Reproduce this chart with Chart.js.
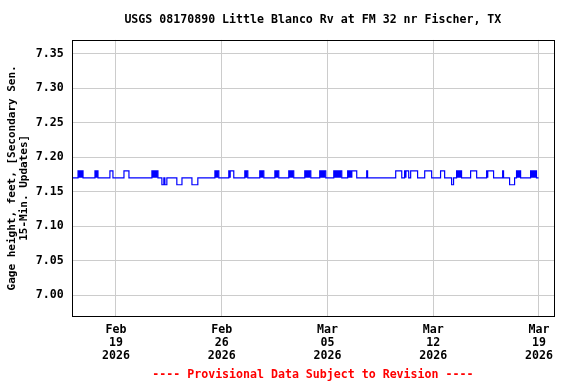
<!DOCTYPE html>
<html><head><meta charset="utf-8">
<script src="https://cdn.jsdelivr.net/npm/chart.js@4.4.1/dist/chart.umd.min.js"></script>
<style>html,body{margin:0;padding:0;background:#fff}</style>
</head><body>
<canvas id="c" width="576" height="384"></canvas>
<script>
// x values are days relative to Feb 19 2026 00:00
const xTickDays = [0, 7, 14, 21, 28];
const xTickLabels = [["Feb","19","2026"],["Feb","26","2026"],["Mar","05","2026"],["Mar","12","2026"],["Mar","19","2026"]];
const yTicks = [7.00, 7.05, 7.10, 7.15, 7.20, 7.25, 7.30, 7.35];
const baseLevel = 7.17;
const recordStart = -2.91, recordEnd = 27.98;
// excursions from the base level (start day, end day, level)
const stepStart = [-2.51,-1.39,-0.40,0.53,2.38,3.04,3.24,4.03,5.03,6.55,7.47,8.53,9.52,10.52,11.44,12.50,13.49,14.42,15.34,16.60,18.52,19.11,19.51,20.44,21.49,22.22,22.55,23.48,24.54,25.60,26.06,26.52,27.45];
const stepEnd   = [-2.18,-1.19,-0.20,0.86,2.78,3.17,3.37,4.37,5.42,6.81,7.80,8.73,9.79,10.78,11.77,12.90,13.89,14.95,15.94,16.66,18.92,19.38,19.97,20.90,21.76,22.35,22.88,23.88,25.00,25.66,26.39,26.79,27.84];
const stepLevel = [7.18,7.18,7.18,7.18,7.18,7.16,7.16,7.16,7.16,7.18,7.18,7.18,7.18,7.18,7.18,7.18,7.18,7.18,7.18,7.18,7.18,7.18,7.18,7.18,7.18,7.16,7.18,7.18,7.18,7.18,7.16,7.18,7.18];
// periods of rapid 7.17 <-> 7.18 flicker (drawn solid)
const bandStart = [-2.51,-1.39,2.38,6.55,7.47,8.53,9.52,10.52,11.44,12.50,13.49,14.42,15.34,19.11,22.55,24.54,26.52,27.45];
const bandEnd   = [-2.18,-1.19,2.78,6.81,7.61,8.73,9.79,10.78,11.77,12.90,13.89,14.95,15.67,19.25,22.88,24.67,26.79,27.84];
const bandTop = 7.18;

const linePts = [{x: recordStart, y: baseLevel}];
for (let i = 0; i < stepStart.length; i++) {
  linePts.push({x: stepStart[i], y: stepLevel[i]});
  linePts.push({x: stepEnd[i], y: baseLevel});
}
linePts.push({x: recordEnd, y: baseLevel});

const bandPts = [];
for (let i = 0; i < bandStart.length; i++) {
  bandPts.push({x: bandStart[i], y: bandTop});
  bandPts.push({x: bandEnd[i], y: bandTop});
  bandPts.push({x: bandEnd[i], y: null});
}

const FONT = 'DejaVu Sans Mono';
const frame = {
  id: 'frame',
  afterDraw(chart) {
    const a = chart.chartArea, ctx = chart.ctx;
    ctx.save();
    ctx.strokeStyle = '#000';
    ctx.lineWidth = 1;
    ctx.strokeRect(Math.round(a.left) + 0.5, Math.round(a.top) + 0.5, Math.round(a.right - a.left), Math.round(a.bottom - a.top));
    ctx.restore();
  }
};

new Chart(document.getElementById('c'), {
  type: 'line',
  data: {
    datasets: [
      {data: bandPts, borderWidth: 0, pointRadius: 0, fill: {value: baseLevel}, backgroundColor: '#0000ff', borderColor: '#0000ff', spanGaps: false},
      {data: linePts, stepped: true, borderColor: '#0000ff', borderWidth: 1.2, pointRadius: 0, fill: false}
    ]
  },
  options: {
    responsive: false,
    animation: false,
    devicePixelRatio: 1,
    layout: {padding: {left: 0, right: 22, top: 0, bottom: 0}},
    plugins: {
      legend: {display: false},
      tooltip: {enabled: false},
      title: {display: true, fullSize: false, text: 'USGS 08170890 Little Blanco Rv at FM 32 nr Fischer, TX', color: '#000',
        font: {family: FONT, weight: 'bold', size: 11.6, lineHeight: 1.2}, padding: {top: 13, bottom: 13}},
      subtitle: {display: true, fullSize: false, position: 'bottom', text: '---- Provisional Data Subject to Revision ----', color: '#ff0000',
        font: {family: FONT, weight: 'bold', size: 11.6, lineHeight: 1.2}, padding: {top: 4, bottom: 2}}
    },
    scales: {
      x: {
        type: 'linear', min: -2.93, max: 29.0,
        afterFit(s) { s.height = 48.3; },
        afterBuildTicks(s) { s.ticks = xTickDays.map(v => ({value: v})); },
        grid: {color: '#cccccc', drawTicks: false},
        border: {display: false},
        ticks: {color: '#000', padding: 7.5, maxRotation: 0, autoSkip: false,
          font: {family: FONT, weight: 'bold', size: 11.6, lineHeight: 1.12},
          callback(v) { const i = xTickDays.indexOf(v); return i >= 0 ? xTickLabels[i] : ''; }}
      },
      y: {
        min: 6.970, max: 7.370,
        afterFit(s) { s.width = 71.7; },
        afterBuildTicks(s) { s.ticks = yTicks.map(v => ({value: v})); },
        grid: {color: '#cccccc', drawTicks: false},
        border: {display: false},
        ticks: {color: '#000', padding: 8, font: {family: FONT, weight: 'bold', size: 11.6},
          callback(v) { return Number(v).toFixed(2); }},
        title: {display: true, text: ['Gage height, feet, [Secondary Sen.', '15-Min. Updates]   '], color: '#000',
          font: {family: FONT, weight: 'bold', size: 11, lineHeight: 1.09}, padding: {top: 6, bottom: 0}}
      }
    }
  },
  plugins: [frame]
});
</script>
</body></html>
